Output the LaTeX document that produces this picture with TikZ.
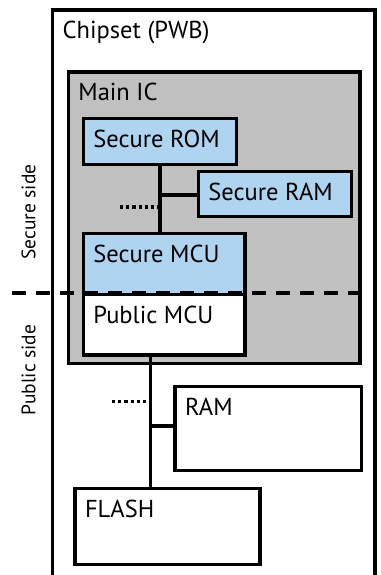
\documentclass[tikz,border=0pt]{standalone}
\usepackage{fontspec}
\setmainfont{PT Sans}
\usetikzlibrary{positioning}
\definecolor{secblue}{HTML}{AFD4F0}
\definecolor{icgray}{HTML}{C0C0C0}
\tikzset{
  unit/.style    ={draw, line width=3.4pt, inner sep=0pt, anchor=north west},
  chip/.style    ={unit, fill=white},
  ic/.style      ={unit, fill=icgray},
  secure/.style  ={unit, fill=secblue},
  public/.style  ={unit, fill=white},
  boxtext/.style ={anchor=base west, inner sep=0pt, font=\fontsize{24.5}{28}\selectfont},
  sidetext/.style={rotate=90, inner sep=0pt, font=\fontsize{19.5}{23}\selectfont},
  wire/.style    ={line width=3.9pt},
  dots/.style    ={line width=3.2pt, dash pattern=on 3.2pt off 3pt},
  divider/.style ={line width=3.6pt, dash pattern=on 14pt off 10pt},
}
\newcommand{\boxtitle}[3]{%
  \node[boxtext] (#1) at ([shift={(11.5,30.5)}]#2.north west) {#3};}

\begin{document}
\begin{tikzpicture}[x=1pt,y=-1pt]
  \useasboundingbox (0,0) rectangle (380,575);
  % boards and chips
  \node[chip, minimum width=322.3pt, minimum height=620pt] (chipset) at (51,8.3) {};
  \boxtitle{chipsettxt}{chipset}{Chipset (PWB)}
  \node[ic, minimum width=291.6pt, minimum height=291.4pt] (mainic) at (66.7,70.3) {};
  \boxtitle{mainictxt}{mainic}{Main IC}
  \node[secure, minimum width=153.3pt, minimum height=46.3pt] (secrom) at (81.7,116.7) {};
  \boxtitle{secromtxt}{secrom}{Secure ROM}
  \node[secure, minimum width=153.3pt, minimum height=44.7pt] (secram) at (196.7,170) {};
  \boxtitle{secramtxt}{secram}{Secure RAM}
  \node[secure, minimum width=161.6pt, minimum height=60.7pt] (secmcu) at (81.7,232) {};
  \boxtitle{secmcutxt}{secmcu}{Secure MCU}
  \node[public, minimum width=161.6pt, minimum height=60.6pt] (pubmcu) at (81.7,292.7) {};
  \boxtitle{pubmcutxt}{pubmcu}{Public MCU}
  \node[public, minimum width=186.2pt, minimum height=84pt] (ram) at (173.3,385) {};
  \boxtitle{ramtxt}{ram}{RAM}
  \node[public, minimum width=185pt, minimum height=76.1pt] (flash) at (73.3,486.7) {};
  \boxtitle{flashtxt}{flash}{FLASH}
  % secure bus
  \draw[wire] (secrom.south) -- (secrom.south |- secmcu.north);
  \draw[wire] ([yshift=-1pt]secram.west) -- ([yshift=-1pt]secram.west -| secrom.south);
  \coordinate (dotA) at (120,207);
  \draw[dots] (dotA) -- (dotA -| secrom.south);
  % public bus
  \coordinate (bus) at (150.5,0);
  \draw[wire] (bus |- pubmcu.south) -- (bus |- flash.north);
  \draw[wire] ([yshift=2.7pt]ram.west) -- ([yshift=2.7pt]ram.west -| bus);
  \coordinate (dotB) at (112,401.7);
  \draw[dots] (dotB) -- (dotB -| bus);
  % secure / public border
  \coordinate (sideL) at (12,292.7);
  \coordinate (sideR) at (372,292.7);
  \draw[divider] (sideL) -- (sideR);
  \node[sidetext] (securelbl) at (28.5,212) {Secure side};
  \node[sidetext] (publiclbl) at (28.5,370) {Public side};
\end{tikzpicture}
\end{document}
